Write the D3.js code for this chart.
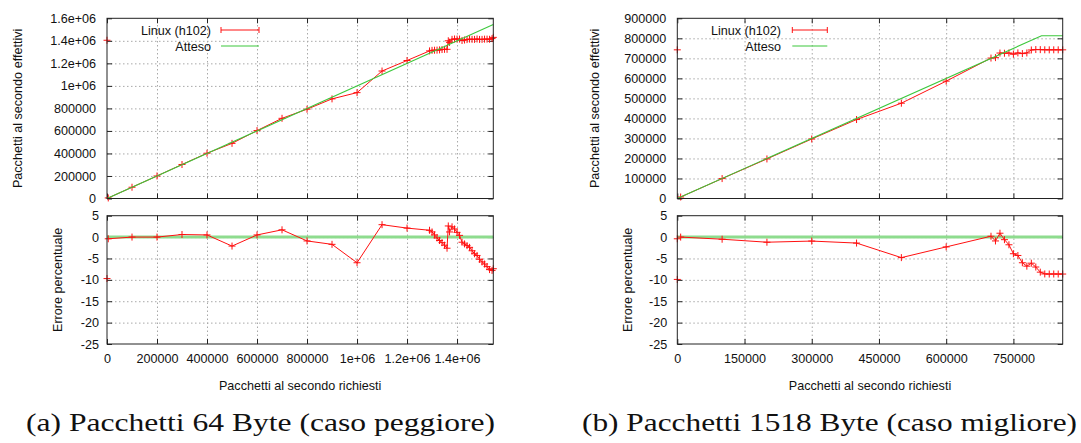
<!DOCTYPE html>
<html>
<head>
<meta charset="utf-8">
<script src="https://cdn.jsdelivr.net/npm/d3@7"></script>
<style>
  html, body { margin: 0; padding: 0; background: #fff; }
  svg { display: block; }
</style>
</head>
<body>
<svg id="fig" width="1081" height="443"></svg>
<script>
// ---- Pacchetti 64 Byte: rate richiesto vs rate effettivo (pacchetti/s) ----
const richiesti64 = [5000, 100000, 200000, 300000, 400000, 500000, 600000, 700000, 800000, 900000,
  1000000, 1100000, 1200000, 1290000, 1300000, 1310000, 1320000, 1330000, 1340000, 1350000,
  1360000, 1365000, 1370000, 1380000, 1390000, 1400000, 1410000, 1420000, 1430000, 1440000,
  1450000, 1460000, 1470000, 1480000, 1490000, 1500000, 1510000, 1520000, 1530000, 1540000, 1545000];
const effettivi64 = [4980, 100000, 200000, 301800, 402000, 489500, 603000, 711900, 792800, 884700,
  940000, 1131900, 1225200, 1310600, 1315600, 1316600, 1317400, 1319400, 1322600, 1324400,
  1324600, 1400500, 1386400, 1413100, 1416400, 1415400, 1415600, 1403000, 1407100, 1411200,
  1415200, 1413300, 1412700, 1416400, 1412500, 1413000, 1414900, 1415100, 1413700, 1419900, 1430700];
const atteso64X = [0, 1545000];
const atteso64Y = [0, 1545000];
const isolati64 = [[0, 1405000]];          // punti sull'asse, grafico superiore
const isolatiErr64 = [[0, -9.7]];          // punti sull'asse, grafico inferiore

// ---- Pacchetti 1518 Byte ----
const richiesti1518 = [7500, 100000, 200000, 300000, 400000, 500000, 600000, 700000, 710000, 720000,
  730000, 740000, 750000, 760000, 770000, 780000, 790000, 800000, 810000, 820000,
  830000, 840000, 850000, 860000];
const effettivi1518 = [7500, 99500, 197600, 297200, 394400, 476000, 586200, 701400, 703600, 726500,
  725600, 726700, 720800, 727300, 723800, 727000, 741800, 744000, 743600, 742700,
  742500, 742600, 742500, 742500];
const atteso1518X = [0, 812743, 860000];
const atteso1518Y = [0, 812743, 812743];
const isolati1518 = [[0, 742500]];
const isolatiErr1518 = [[0, -9.9], [0, -0.4]];

// ---- Tick ----
const tickX64 = [0, 200000, 400000, 600000, 800000, 1000000, 1200000, 1400000];
const etichetteX64 = ["0", "200000", "400000", "600000", "800000", "1e+06", "1.2e+06", "1.4e+06"];
const tickY64 = [0, 200000, 400000, 600000, 800000, 1000000, 1200000, 1400000, 1600000];
const etichetteY64 = ["0", "200000", "400000", "600000", "800000", "1e+06", "1.2e+06", "1.4e+06", "1.6e+06"];
const tickX1518 = [0, 150000, 300000, 450000, 600000, 750000];
const etichetteX1518 = ["0", "150000", "300000", "450000", "600000", "750000"];
const tickY1518 = [0, 100000, 200000, 300000, 400000, 500000, 600000, 700000, 800000, 900000];
const etichetteY1518 = ["0", "100000", "200000", "300000", "400000", "500000", "600000", "700000", "800000", "900000"];
const tickErr = [-25, -20, -15, -10, -5, 0, 5];
const etichetteErr = ["-25", "-20", "-15", "-10", "-5", "0", "5"];

// ---- Testi ----
const serie = ["Linux (h102)", "Atteso"];
const titoloX = "Pacchetti al secondo richiesti";
const titoloYSup = "Pacchetti al secondo effettivi";
const titoloYInf = "Errore percentuale";
const didascalie = ["(a) Pacchetti 64 Byte (caso peggiore)", "(b) Pacchetti 1518 Byte (caso migliore)"];

// ---- Stile e geometria ----
const FONT = '"Liberation Sans", Arial, sans-serif';
const FS = 12.6;
const ROSSO = "#ff1010";
const VERDE = "#3cc83c";
const VERDE_ERR = "#8edc8e";
const SUP = { y0: 18.3, y1: 198.5 };
const INF = { y0: 215.7, y1: 344 };
const TICK = 5;

const svg = d3.select("#fig");

function croci(g, pts, x, y) {
  g.selectAll(null).data(pts).enter().append("path")
    .attr("d", d => `M${x(d[0]) - 3.5},${y(d[1])}H${x(d[0]) + 3.5}M${x(d[0])},${y(d[1]) - 3.5}V${y(d[1]) + 3.5}`)
    .attr("stroke", ROSSO).attr("stroke-width", 1).attr("fill", "none");
}

function stileAsse(sel) {
  sel.select(".domain").remove();
  sel.selectAll(".tick line").attr("stroke", "#222").attr("stroke-width", 1);
  sel.selectAll(".tick text").attr("fill", "#111").style("font-family", FONT).style("font-size", FS + "px");
}

function griglia(sel) {
  sel.select(".domain").remove();
  sel.selectAll(".tick line").attr("stroke", "#a8a8a8").attr("stroke-width", 1).attr("stroke-dasharray", "1.5,2.5");
}

function pannello(g, x, y, yTicks, yLab, xTicks, xLab, pad, conEtichetteX) {
  const [ya, yb] = y.range();
  const yTop = Math.min(ya, yb), yBot = Math.max(ya, yb);
  const [xl, xr] = x.range();
  const dom = y.domain();
  // griglia
  g.append("g").attr("transform", `translate(0,${yBot})`)
    .call(d3.axisBottom(x).tickValues(xTicks.filter(v => v > 0)).tickSize(-(yBot - yTop)).tickFormat(""))
    .call(griglia);
  g.append("g").attr("transform", `translate(${xl},0)`)
    .call(d3.axisLeft(y).tickValues(yTicks.filter(v => v > dom[0] && v < dom[1])).tickSize(-(xr - xl)).tickFormat(""))
    .call(griglia);
  // assi con tacche interne su tutti i lati
  g.append("g").attr("transform", `translate(${xl},0)`)
    .call(d3.axisLeft(y).tickValues(yTicks).tickSizeInner(-TICK).tickSizeOuter(0)
      .tickPadding(pad).tickFormat((d, i) => yLab[i]))
    .call(stileAsse);
  g.append("g").attr("transform", `translate(${xr},0)`)
    .call(d3.axisRight(y).tickValues(yTicks).tickSizeInner(-TICK).tickSizeOuter(0).tickFormat(""))
    .call(stileAsse);
  g.append("g").attr("transform", `translate(0,${yTop})`)
    .call(d3.axisTop(x).tickValues(xTicks).tickSizeInner(-TICK).tickSizeOuter(0).tickFormat(""))
    .call(stileAsse);
  g.append("g").attr("transform", `translate(0,${yBot})`)
    .call(d3.axisBottom(x).tickValues(xTicks).tickSizeInner(-TICK).tickSizeOuter(0).tickPadding(10.5)
      .tickFormat(conEtichetteX ? ((d, i) => xLab[i]) : ""))
    .call(stileAsse);
  return { yTop, yBot, xl, xr };
}

function bordo(g, b) {
  g.append("rect").attr("x", b.xl).attr("y", b.yTop).attr("width", b.xr - b.xl).attr("height", b.yBot - b.yTop)
    .attr("fill", "none").attr("stroke", "#222").attr("stroke-width", 1);
}

function testo(g, s) {
  return g.append("text").style("font-family", FONT).style("font-size", FS + "px").attr("fill", "#111").text(s);
}

function grafico(cfg) {
  const g = svg.append("g");
  const x = d3.scaleLinear().domain([0, cfg.xMax]).range([cfg.x0, cfg.x1]);
  const ySup = d3.scaleLinear().domain([0, cfg.yMax]).range([SUP.y1, SUP.y0]);
  const yInf = d3.scaleLinear().domain([-25, 5]).range([INF.y1, INF.y0]);

  // valore atteso alla stessa ascissa e relativo errore percentuale
  const atteso = d3.scaleLinear().domain(cfg.attesoX).range(cfg.attesoY);
  const punti = cfg.richiesti.map((r, i) => [r, cfg.effettivi[i]]);
  const errori = cfg.richiesti.map((r, i) => [r, (cfg.effettivi[i] - atteso(r)) / atteso(r) * 100]);
  const attesoPunti = cfg.attesoX.map((v, i) => [v, cfg.attesoY[i]]);
  const zero = cfg.attesoX.map(v => [v, 0]);

  // --- pannello superiore ---
  const gs = g.append("g");
  const bs = pannello(gs, x, ySup, cfg.yTicks, cfg.yLab, cfg.xTicks, cfg.xLab, 11, false);
  const lineaS = d3.line().x(d => x(d[0])).y(d => ySup(d[1]));
  gs.append("path").datum(punti).attr("d", lineaS).attr("fill", "none").attr("stroke", ROSSO).attr("stroke-width", 1);
  croci(gs, punti, x, ySup);
  gs.append("path").datum(attesoPunti).attr("d", lineaS).attr("fill", "none").attr("stroke", VERDE).attr("stroke-width", 1.1);
  croci(gs, cfg.isolati, x, ySup);
  bordo(gs, bs);

  // legenda
  const lx = cfg.x0 + cfg.legTesto, l1 = cfg.x0 + cfg.legA, l2 = cfg.x0 + cfg.legB;
  const ly = [SUP.y0 + 11.7, SUP.y0 + 27.7];
  serie.forEach((s, i) => {
    testo(gs, s).attr("x", lx).attr("y", ly[i]).attr("dy", "0.36em").attr("text-anchor", "end");
  });
  gs.append("path").attr("d", `M${l1},${ly[0]}H${l2}M${l1},${ly[0] - 3}V${ly[0] + 3}M${l2},${ly[0] - 3}V${ly[0] + 3}`)
    .attr("stroke", ROSSO).attr("stroke-width", 1).attr("fill", "none");
  gs.append("path").attr("d", `M${l1},${ly[1]}H${l2}`).attr("stroke", VERDE).attr("stroke-width", 1.1);

  // --- pannello inferiore ---
  const gi = g.append("g");
  const bi = pannello(gi, x, yInf, tickErr, etichetteErr, cfg.xTicks, cfg.xLab, cfg.padErr, true);
  const lineaI = d3.line().x(d => x(d[0])).y(d => yInf(d[1]));
  gi.append("path").datum(zero).attr("d", lineaI).attr("fill", "none").attr("stroke", VERDE_ERR).attr("stroke-width", 3);
  gi.append("path").datum(errori).attr("d", lineaI).attr("fill", "none").attr("stroke", ROSSO).attr("stroke-width", 1);
  croci(gi, errori, x, yInf);
  croci(gi, cfg.isolatiErr, x, yInf);
  bordo(gi, bi);

  // titoli degli assi
  testo(g, titoloX).attr("x", (cfg.x0 + cfg.x1) / 2).attr("y", 385).attr("dy", "0.36em").attr("text-anchor", "middle");
  testo(g, titoloYSup).attr("transform", `translate(${cfg.x0 - cfg.ySupOff},${(SUP.y0 + SUP.y1) / 2}) rotate(-90)`)
    .attr("dy", "0.36em").attr("text-anchor", "middle");
  testo(g, titoloYInf).attr("transform", `translate(${cfg.x0 - cfg.yInfOff},${(INF.y0 + INF.y1) / 2}) rotate(-90)`)
    .attr("dy", "0.36em").attr("text-anchor", "middle");

  // didascalia
  g.append("text").attr("x", cfg.capX).attr("y", 431).attr("text-anchor", "middle")
    .attr("textLength", cfg.capW).attr("lengthAdjust", "spacingAndGlyphs")
    .style("font-family", '"Liberation Serif", serif').style("font-size", "25px").attr("fill", "#111")
    .text(cfg.didascalia);
}

grafico({
  richiesti: richiesti64, effettivi: effettivi64, attesoX: atteso64X, attesoY: atteso64Y,
  isolati: isolati64, isolatiErr: isolatiErr64,
  xTicks: tickX64, xLab: etichetteX64, yTicks: tickY64, yLab: etichetteY64,
  xMax: 1545000, yMax: 1600000,
  x0: 107, x1: 493.3, padErr: 8, ySupOff: 90, yInfOff: 49.5,
  legTesto: 104, legA: 114, legB: 152,
  capX: 260.5, capW: 469, didascalia: didascalie[0]
});

grafico({
  richiesti: richiesti1518, effettivi: effettivi1518, attesoX: atteso1518X, attesoY: atteso1518Y,
  isolati: isolati1518, isolatiErr: isolatiErr1518,
  xTicks: tickX1518, xLab: etichetteX1518, yTicks: tickY1518, yLab: etichetteY1518,
  xMax: 860000, yMax: 900000,
  x0: 677.3, x1: 1062.7, padErr: 10, ySupOff: 82.8, yInfOff: 49.8,
  legTesto: 103.7, legA: 115, legB: 150,
  capX: 829.5, capW: 495, didascalia: didascalie[1]
});
</script>
</body>
</html>
